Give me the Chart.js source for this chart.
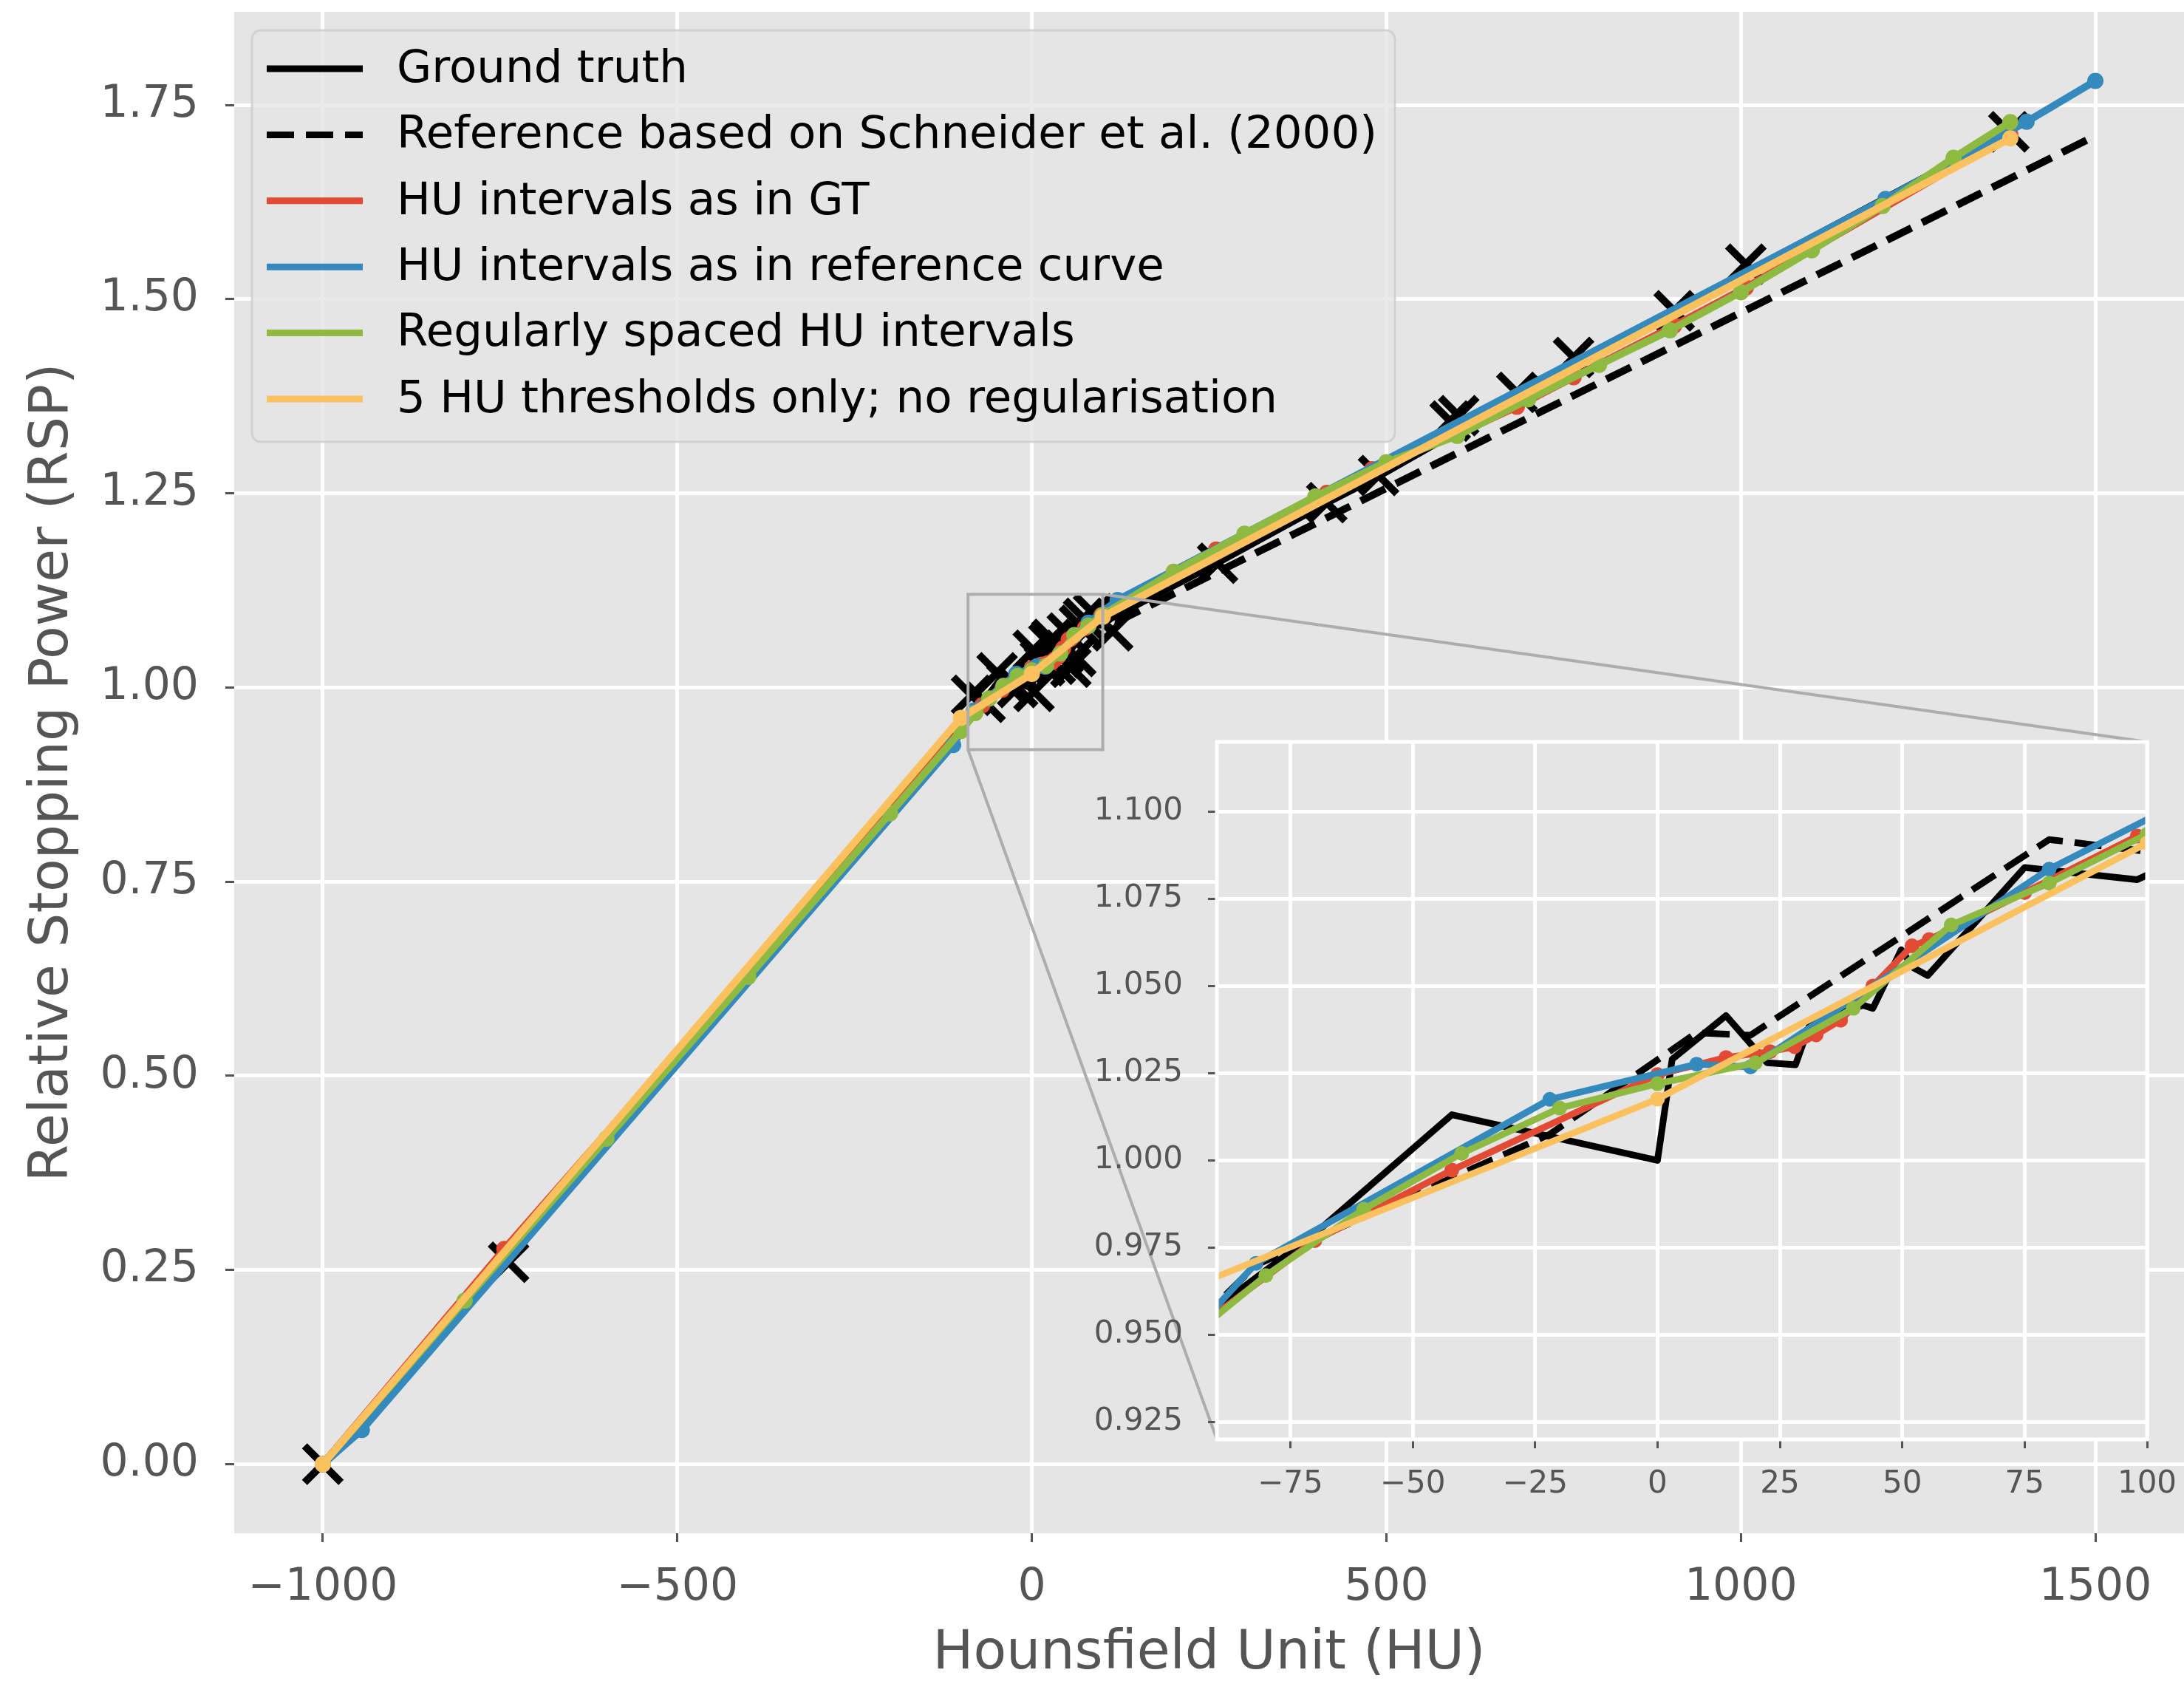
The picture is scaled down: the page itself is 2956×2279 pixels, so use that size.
<!DOCTYPE html>
<html>
<head>
<meta charset="utf-8">
<script src="https://cdn.jsdelivr.net/npm/chart.js@4.4.0/dist/chart.umd.min.js"></script>
<style>
  body { margin: 0; background: #ffffff; }
  #wrap { position: relative; width: 2956px; height: 2279px; }
  canvas { position: absolute; left: 0; top: 0; }
</style>
</head>
<body>
<div id="wrap">
  <canvas id="main" width="2956" height="2279"></canvas>
  <canvas id="inset" width="2956" height="2279"></canvas>
</div>
<script>
const FONT = 'DejaVu Sans';
const RED = '#E24A33', BLUE = '#348ABD', GREEN = '#8EBA42', YELLOW = '#FBC15E';

// ground truth HU -> RSP conversion
const gtHU  = [-1000, -744, -70, -42, 0, 3, 14, 22.4, 28.2, 31.3, 42, 44, 49.8, 52.3, 55.2, 75, 98, 111, 260, 416, 489, 600, 684, 764, 906, 1007, 1380];
const gtRSP = [0, 0.270, 0.979, 1.0131, 1.000, 1.029, 1.0415, 1.028, 1.0274, 1.0397, 1.0445, 1.0436, 1.0604, 1.0552, 1.053, 1.084, 1.0805, 1.089, 1.160, 1.238, 1.272, 1.330, 1.372, 1.412, 1.483, 1.534, 1.7155];

// reference curve (Schneider et al. 2000)
const refHU  = [-1000, -945, -111, -82, -22, 8, 19, 80, 121, 1204, 1403, 1500];
const refRSP = [0, 0.046, 0.930, 0.970, 1.0075, 1.0366, 1.0359, 1.092, 1.085, 1.575, 1.666, 1.7105];

// fit with HU intervals as in GT
const gtIntHU  = [-1000, -744, -70, -42, 0, 14, 23, 28, 32.4, 37.4, 44, 52, 55.5, 75, 98, 260, 416, 480, 600, 684, 764, 906, 1007, 1380];
const gtIntRSP = [0, 0.277, 0.977, 0.9972, 1.0246, 1.0295, 1.0312, 1.0326, 1.036, 1.0402, 1.050, 1.0615, 1.0633, 1.0768, 1.093, 1.1777, 1.2506, 1.281, 1.326, 1.3616, 1.3995, 1.466, 1.515, 1.712];

// fit with HU intervals as in reference curve
const refIntHU  = [-1000, -945, -111, -82, -22, 8, 19, 80, 121, 1204, 1403, 1500];
const refIntRSP = [0, 0.044, 0.926, 0.9705, 1.0175, 1.0276, 1.0268, 1.0835, 1.1127, 1.629, 1.7285, 1.781];

// fit with regularly spaced HU intervals
const regHU  = [-1000, -800, -600, -400, -200, -100, -80, -60, -40, -20, 0, 20, 40, 60, 80, 100, 200, 300, 400, 500, 600, 700, 800, 900, 1000, 1100, 1200, 1300, 1380];
const regRSP = [0, 0.2105, 0.419, 0.6275, 0.838, 0.944, 0.967, 0.986, 1.002, 1.015, 1.022, 1.028, 1.0436, 1.0675, 1.0795, 1.0935, 1.149, 1.198, 1.246, 1.290, 1.324, 1.371, 1.4155, 1.460, 1.509, 1.563, 1.620, 1.682, 1.728];

// 5 thresholds, no regularisation
const thrHU  = [-1000, -100, 0, 100, 1380];
const thrRSP = [0, 0.961, 1.0176, 1.091, 1.707];

// tissue samples (x markers)
const tisHU  = [-1000, -738, -85, -66, -49, -35, -20, 3, 2, 12, 18, 24, 28, 33, 41, 46, 50, 55, 62, 67, 73, 87, 114, 262, 416, 489, 590, 602, 684, 764, 906, 1007, 1378];
const tisRSP = [0, 0.260, 0.990, 0.981, 1.019, 1.005, 1.000, 0.995, 1.048, 1.035, 1.028, 1.057, 1.062, 1.030, 1.038, 1.045, 1.070, 1.026, 1.040, 1.080, 1.089, 1.095, 1.073, 1.160, 1.238, 1.273, 1.343, 1.350, 1.380, 1.425, 1.485, 1.545, 1.7155];

// axis limits and ticks
const mainXLim = [-1125, 1625];
const mainYLim = [-0.089, 1.870];
const mainXTicks = [-1000, -500, 0, 500, 1000, 1500];
const mainYTicks = [0, 0.25, 0.5, 0.75, 1.0, 1.25, 1.5, 1.75];
const insetXLim = [-90, 100];
const insetYLim = [0.92, 1.12];
const insetXTicks = [-75, -50, -25, 0, 25, 50, 75, 100];
const insetYTicks = [0.925, 0.95, 0.975, 1.0, 1.025, 1.05, 1.075, 1.1];

const pts = (xs, ys) => xs.map((x, i) => ({x: x, y: ys[i]}));
const minus = v => v < 0 ? '\u2212' + Math.abs(v) : String(v);

function curves(lw, r, dash) {
  const base = {showLine: true, fill: false, tension: 0, clip: 0, borderWidth: lw,
                borderJoinStyle: 'round', pointBorderWidth: 0, pointHoverRadius: r};
  return [
    Object.assign({}, base, {label: 'Ground truth', data: pts(gtHU, gtRSP), borderColor: '#000000', pointRadius: 0, order: 9}),
    Object.assign({}, base, {label: 'Reference based on Schneider et al. (2000)', data: pts(refHU, refRSP), borderColor: '#000000', borderDash: dash, pointRadius: 0, order: 8}),
    Object.assign({}, base, {label: 'HU intervals as in GT', data: pts(gtIntHU, gtIntRSP), borderColor: RED, backgroundColor: RED, pointRadius: r, order: 7}),
    Object.assign({}, base, {label: 'HU intervals as in reference curve', data: pts(refIntHU, refIntRSP), borderColor: BLUE, backgroundColor: BLUE, pointRadius: r, order: 6}),
    Object.assign({}, base, {label: 'Regularly spaced HU intervals', data: pts(regHU, regRSP), borderColor: GREEN, backgroundColor: GREEN, pointRadius: r, order: 5}),
    Object.assign({}, base, {label: '5 HU thresholds only; no regularisation', data: pts(thrHU, thrRSP), borderColor: YELLOW, backgroundColor: YELLOW, pointRadius: r, order: 4})
  ];
}

function axis(lim, ticks, fmt, fontSize, pad, size, horizontal, title) {
  const a = {
    type: 'linear', min: lim[0], max: lim[1], bounds: 'data',
    afterBuildTicks: s => { s.ticks = ticks.map(v => ({value: v})); },
    afterFit: s => {
      if (horizontal) s.height = size; else s.width = size;
      // keep the plot area exactly where the layout padding puts it
      s.paddingLeft = s.paddingRight = s.paddingTop = s.paddingBottom = 0;
    },
    ticks: {callback: fmt, font: {family: FONT, size: fontSize}, color: '#555555', padding: pad,
            autoSkip: false, maxRotation: 0},
    grid: {color: '#ffffff', lineWidth: 5, tickColor: '#555555', tickLength: 12, tickWidth: 3},
    border: {display: false}
  };
  if (title) a.title = title;
  return a;
}

// grey panel behind the plot area
const panel = {
  id: 'panel',
  beforeDraw(chart) {
    const a = chart.chartArea, ctx = chart.ctx;
    ctx.save();
    ctx.fillStyle = '#E5E5E5';
    ctx.fillRect(a.left, a.top, a.right - a.left, a.bottom - a.top);
    ctx.restore();
  }
};

const legendBox = {
  id: 'legendBox',
  afterDraw(chart) {
    const ctx = chart.ctx;
    const items = chart.data.datasets.filter(d => d.label);
    ctx.save();
    ctx.beginPath();
    ctx.roundRect(341, 41, 1547, 557, 12);
    ctx.fillStyle = 'rgba(229,229,229,0.8)';
    ctx.fill();
    ctx.strokeStyle = 'rgba(204,204,204,0.8)';
    ctx.lineWidth = 3;
    ctx.stroke();
    ctx.font = '61px "' + FONT + '"';
    ctx.textBaseline = 'middle';
    items.forEach((d, i) => {
      const y = 95 + i * 89.4;
      ctx.beginPath();
      ctx.setLineDash(d.borderDash || []);
      ctx.strokeStyle = d.borderColor;
      ctx.lineWidth = 9;
      ctx.moveTo(361, y - 2);
      ctx.lineTo(491, y - 2);
      ctx.stroke();
      ctx.setLineDash([]);
      ctx.fillStyle = '#000000';
      ctx.fillText(d.label, 537, y);
    });
    ctx.restore();
  }
};

const mainSets = [{
  data: pts(tisHU, tisRSP), showLine: false, clip: 0, pointStyle: 'crossRot', pointRadius: 35,
  pointBorderColor: '#000000', pointBackgroundColor: '#000000', pointBorderWidth: 10, order: 10
}].concat(curves(10, 11, [37, 16]));

const mainChart = new Chart(document.getElementById('main'), {
  type: 'scatter',
  data: {datasets: mainSets},
  options: {
    responsive: false, animation: false, events: [],
    layout: {autoPadding: false, padding: {top: 16, left: 0, right: 0, bottom: 0}},
    plugins: {legend: {display: false}, tooltip: {enabled: false}},
    scales: {
      x: axis(mainXLim, mainXTicks, v => minus(v), 60, 26, 204, true,
        {display: true, text: 'Hounsfield Unit (HU)', color: '#555555',
         font: {family: FONT, size: 73, lineHeight: 1.1}, padding: 0}),
      y: axis(mainYLim, mainYTicks, v => v.toFixed(2), 60, 36, 317, false,
        {display: true, text: 'Relative Stopping Power (RSP)', color: '#555555',
         font: {family: FONT, size: 73, lineHeight: 1.1}, padding: {top: 32, bottom: 0}})
    }
  },
  plugins: [panel, legendBox]
});

// zoom box on the main axes, connectors and frame of the inset
const insetFrame = {
  id: 'insetFrame',
  beforeDraw(chart) {
    const ctx = chart.ctx, a = chart.chartArea;
    const mx = mainChart.scales.x, my = mainChart.scales.y;
    const x0 = mx.getPixelForValue(insetXLim[0]), x1 = mx.getPixelForValue(insetXLim[1]);
    const y0 = my.getPixelForValue(insetYLim[0]), y1 = my.getPixelForValue(insetYLim[1]);
    ctx.save();
    ctx.strokeStyle = '#adadad';
    ctx.lineWidth = 4;
    ctx.strokeRect(x0, y1, x1 - x0, y0 - y1);
    ctx.beginPath();
    ctx.moveTo(x1, y1); ctx.lineTo(a.right, a.top);
    ctx.moveTo(x0, y0); ctx.lineTo(a.left, a.bottom);
    ctx.stroke();
    ctx.fillStyle = '#E5E5E5';
    ctx.fillRect(a.left, a.top, a.right - a.left, a.bottom - a.top);
    ctx.restore();
  },
  afterDatasetsDraw(chart) {
    const ctx = chart.ctx, a = chart.chartArea;
    ctx.save();
    ctx.strokeStyle = '#ffffff';
    ctx.lineWidth = 5;
    ctx.strokeRect(a.left, a.top, a.right - a.left, a.bottom - a.top);
    ctx.restore();
  }
};

new Chart(document.getElementById('inset'), {
  type: 'scatter',
  data: {datasets: curves(9, 10, [37, 16])},
  options: {
    responsive: false, animation: false, events: [],
    layout: {autoPadding: false, padding: {left: 1427, right: 50, top: 1004, bottom: 221}},
    plugins: {legend: {display: false}, tooltip: {enabled: false}},
    scales: {
      x: axis(insetXLim, insetXTicks, v => minus(v), 42, 24, 110, true, null),
      y: axis(insetYLim, insetYTicks, v => v.toFixed(3), 42, 34, 220, false, null)
    }
  },
  plugins: [insetFrame]
});
</script>
</body>
</html>
